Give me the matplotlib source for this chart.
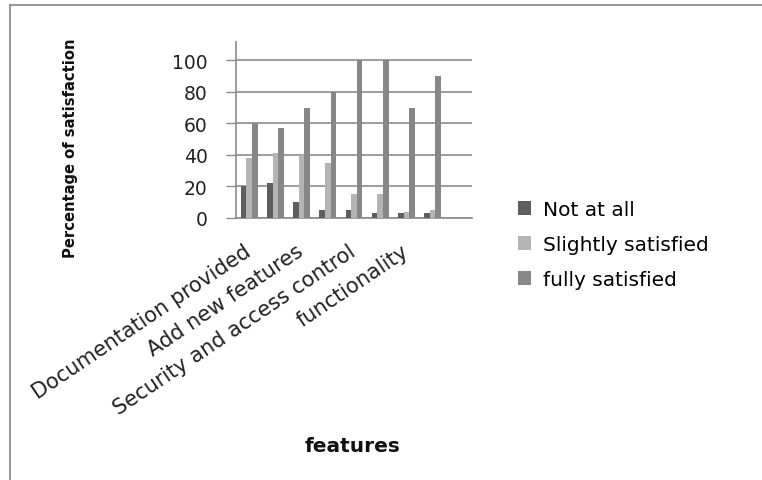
import matplotlib
matplotlib.use("Agg")
import matplotlib.pyplot as plt
from matplotlib.lines import Line2D
from matplotlib.patches import Patch
import numpy as np

# Survey categories (labels appear on every other slot)
categories = ["Documentation provided", "", "Add new features", "",
              "Security and access control", "", "functionality", "", ""]
series_names = ["Not at all", "Slightly satisfied", "fully satisfied"]
not_at_all = [20, 22, 10, 5, 5, 3, 3, 3]
slightly_satisfied = [38, 41, 40, 35, 15, 15, 4, 5]
fully_satisfied = [60, 57, 70, 80, 100, 100, 70, 90]
y_ticks = [0, 20, 40, 60, 80, 100]

colors = ["#5e5e5e", "#b4b4b4", "#878787"]
grid_grey = "#8c8c8c"

fig = plt.figure(figsize=(7.62, 4.81), dpi=100)
W, H = 762, 481
ax = fig.add_axes([236 / W, 1 - 219 / H, (472 - 236) / W, (219 - 43) / H])

x = np.arange(len(not_at_all))
bw = 0.215
for k, (vals, col) in enumerate(zip([not_at_all, slightly_satisfied, fully_satisfied], colors)):
    ax.bar(x + (k - 1) * bw, vals, width=bw, color=col, zorder=3, linewidth=0)

ax.set_xlim(-0.5, len(categories) - 0.5)
ax.set_ylim(0, 111.5)
ax.set_yticks(y_ticks)
ax.set_yticklabels([str(v) for v in y_ticks], fontsize=13.5, color="#222222")
ax.yaxis.grid(True, color=grid_grey, linewidth=1.2, zorder=0)
ax.set_axisbelow(True)
ax.tick_params(axis="y", length=7.5, width=1, color=grid_grey, pad=13)
ax.tick_params(axis="x", length=0, pad=22)

ax.set_xticks(np.arange(len(categories)))
ax.set_xticklabels(categories, rotation=34, ha="right", va="center",
                   rotation_mode="anchor", fontsize=15, color="#222222")

for side in ["top", "right"]:
    ax.spines[side].set_visible(False)
for side in ["left", "bottom"]:
    ax.spines[side].set_color(grid_grey)
    ax.spines[side].set_linewidth(1.2)

fig.text(71 / W, 1 - 148 / H, "Percentage of satisfaction", rotation=90,
         ha="center", va="center", fontsize=10.6, fontweight="bold", color="#111111")
fig.text(353 / W, 1 - 447 / H, "features", ha="center", va="center",
         fontsize=14.5, fontweight="bold", color="#111111")

handles = [Patch(facecolor=c, edgecolor="none") for c in colors]
fig.legend(handles, series_names, loc="upper left",
           bbox_to_anchor=(510 / W, 1 - 193 / H), frameon=False,
           fontsize=14.5, handlelength=0.65, handleheight=0.65,
           handletextpad=0.6, labelspacing=0.8, borderaxespad=0)

# outer chart border (left and top edges)
fig.add_artist(Line2D([10 / W, 10 / W], [0, 1 - 6 / H], transform=fig.transFigure,
                      color=grid_grey, linewidth=1.3))
fig.add_artist(Line2D([10 / W, 1], [1 - 6 / H, 1 - 6 / H], transform=fig.transFigure,
                      color=grid_grey, linewidth=1.3))

fig.savefig("out.png", dpi=100)
